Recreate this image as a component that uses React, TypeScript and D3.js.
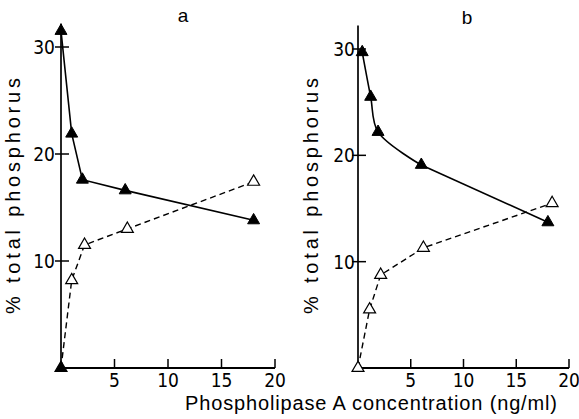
import React from 'react';
import * as d3 from 'd3';

const X_TICKS = [5, 10, 15, 20];
const Y_TICKS = [10, 20, 30];

// panel a
const A_FILLED_X = [0, 1, 2, 6, 18];
const A_FILLED_Y = [31.5, 21.9, 17.6, 16.6, 13.8];
const A_OPEN_X = [0, 1, 2.2, 6.2, 18];
const A_OPEN_Y = [0, 8.2, 11.5, 13, 17.4];

// panel b
const B_FILLED_X = [0.4, 1.2, 1.9, 6, 18];
const B_FILLED_Y = [29.7, 25.5, 22.2, 19.1, 13.7];
const B_OPEN_X = [0, 1.1, 2.15, 6.2, 18.4];
const B_OPEN_Y = [0, 5.5, 8.75, 11.3, 15.5];

const W = 579, H = 419;
const FONT = '"DejaVu Sans Condensed", "DejaVu Sans", sans-serif';
const LABEL_FONT = '"Liberation Sans", "DejaVu Sans", sans-serif';

const zip = (xs: number[], ys: number[]) => xs.map((x, i) => [x, ys[i]] as [number, number]);

// smoothN: how many leading points of the filled series are joined by a smooth curve
const PANELS = [
  {
    name: 'a', x0: 61, x1: 275, y0: 368, y30: 47, labelX: 183, labelY: 22, titleX: 20,
    filled: zip(A_FILLED_X, A_FILLED_Y), open: zip(A_OPEN_X, A_OPEN_Y),
    smoothN: 0, originFilled: true, tickLabelGap: 6,
  },
  {
    name: 'b', x0: 358, x1: 569, y0: 368, y30: 49, labelX: 467, labelY: 24, titleX: 318,
    filled: zip(B_FILLED_X, B_FILLED_Y), open: zip(B_OPEN_X, B_OPEN_Y),
    smoothN: 4, originFilled: false, tickLabelGap: 3,
  },
];

const tri = d3.symbol().type(d3.symbolTriangle).size(62)();

function Panel({ p }: { p: typeof PANELS[number] }) {
  const x = d3.scaleLinear().domain([0, 20]).range([p.x0, p.x1]);
  const y = d3.scaleLinear().domain([0, 30]).range([p.y0, p.y30]);
  const smoothLine = d3.line().x(d => x(d[0])).y(d => y(d[1])).curve(d3.curveCatmullRom.alpha(0.5));
  const line = d3.line().x(d => x(d[0])).y(d => y(d[1]));
  const ink = '#000';
  const smoothPts = p.smoothN > 1 ? p.filled.slice(0, p.smoothN) : [];
  const straightPts = p.smoothN > 1 ? p.filled.slice(p.smoothN - 1) : p.filled;
  return (
    <g>
      {/* axes */}
      <line x1={x(0)} x2={x(0)} y1={y(0)} y2={y(32.2)} stroke={ink} strokeWidth={1.7} />
      <line x1={x(0)} x2={x(20)} y1={y(0)} y2={y(0)} stroke={ink} strokeWidth={1.8} />
      {X_TICKS.map(t => (
        <g key={'x' + t}>
          <line x1={x(t)} x2={x(t)} y1={y(0)} y2={y(0) - 9} stroke={ink} strokeWidth={1.5} />
          <text x={x(t)} y={y(0) + 19} textAnchor="middle" fontFamily={FONT} fontSize={19} fill={ink}>{t}</text>
        </g>
      ))}
      {Y_TICKS.map(t => (
        <g key={'y' + t}>
          <line x1={x(0) - 6} x2={x(0) + 8} y1={y(t)} y2={y(t)} stroke={ink} strokeWidth={1.5} />
          <text x={x(0) - p.tickLabelGap} y={y(t) + 7} textAnchor="end" fontFamily={FONT} fontSize={19} fill={ink}>{t}</text>
        </g>
      ))}
      {/* series */}
      <path d={line(p.open) || ''} fill="none" stroke={ink} strokeWidth={1.4} strokeDasharray="6,4" />
      {smoothPts.length > 1 && <path d={smoothLine(smoothPts) || ''} fill="none" stroke={ink} strokeWidth={1.6} />}
      <path d={line(straightPts) || ''} fill="none" stroke={ink} strokeWidth={1.6} />
      {p.open.map((d, i) => (
        <path key={'o' + i} d={tri || ''} transform={`translate(${x(d[0])},${y(d[1])})`}
          fill={i === 0 && p.originFilled ? ink : '#fff'} stroke={ink} strokeWidth={1.2} />
      ))}
      {p.filled.map((d, i) => (
        <path key={'f' + i} d={tri || ''} transform={`translate(${x(d[0])},${y(d[1])})`} fill={ink} stroke={ink} strokeWidth={1} />
      ))}
      <text x={p.labelX} y={p.labelY} textAnchor="middle" fontFamily={LABEL_FONT} fontSize={19} fill={ink}>{p.name}</text>
      <text transform={`translate(${p.titleX},196) rotate(-90)`} textAnchor="middle" fontFamily={LABEL_FONT}
        fontSize={20} fill={ink} textLength={236} lengthAdjust="spacing">% total phosphorus</text>
    </g>
  );
}

export default function App() {
  return (
    <svg width={W} height={H} viewBox={`0 0 ${W} ${H}`}
      style={{ position: 'absolute', left: 0, top: 0, background: '#fff' }}>
      {PANELS.map(p => <Panel key={p.name} p={p} />)}
      <text x={371} y={410} textAnchor="middle" fontFamily={LABEL_FONT} fontSize={20} fill="#000"
        textLength={372} lengthAdjust="spacing">Phospholipase A concentration (ng/ml)</text>
    </svg>
  );
}
